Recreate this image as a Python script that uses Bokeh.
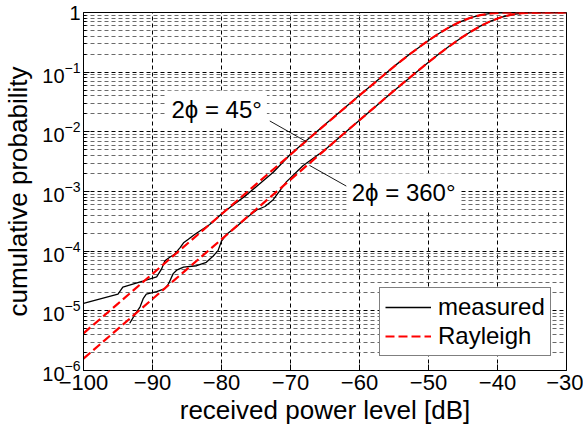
from bokeh.plotting import figure
from bokeh.models import FixedTicker, Label, Legend, LegendItem, Range1d
from bokeh.embed import file_html
from bokeh.resources import INLINE

# ---- data ----
# Rayleigh curves (red dashed)
ray_x = [-100, -95, -90, -85, -80, -75, -70, -65, -60, -55, -52.5, -50, -48.5, -47,
         -45.5, -44, -42.5, -41, -39.5, -38, -36.5, -35, -33.5, -32, -30]
ray45_y = [4.2e-6, 1.32e-5, 4.17e-5, 1.32e-4, 4.17e-4, 1.32e-3, 4.16e-3, 1.31e-2, 4.08e-2,
           0.124, 0.209, 0.341, 0.445, 0.565, 0.691, 0.810, 0.904, 0.964, 0.9907, 0.9986,
           0.9999, 1.0, 1.0, 1.0, 1.0]
ray360_y = [1.58e-6, 5.0e-6, 1.58e-5, 5.0e-5, 1.58e-4, 5.0e-4, 1.58e-3, 4.99e-3, 1.57e-2,
            0.0489, 0.0853, 0.147, 0.201, 0.271, 0.360, 0.468, 0.590, 0.716, 0.831, 0.919,
            0.971, 0.9933, 0.9992, 0.99995, 1.0]

# measured curves (black solid)
m45_x = [-100, -95, -94.3, -91.4, -89.4, -88.7, -88.2, -87.5, -86.8, -86.0, -85.5, -84.8,
         -83.9, -81.7, -79.8, -76.4, -72.5, -70, -65, -60, -55, -52.5, -50, -48.5, -47,
         -45.5, -44, -42.5, -41, -39.5, -38, -36.5, -35, -30]
m45_y = [1.33e-5, 1.9e-5, 2.5e-5, 3.15e-5, 3.7e-5, 5.0e-5, 6.9e-5, 7.9e-5, 8.9e-5, 1.15e-4,
         1.38e-4, 1.58e-4, 1.9e-4, 2.8e-4, 4.4e-4, 8.7e-4, 2.1e-3, 4.2e-3, 1.33e-2, 4.1e-2,
         0.125, 0.21, 0.34, 0.445, 0.565, 0.69, 0.81, 0.905, 0.964, 0.991, 0.9986, 0.9999,
         1.0, 1.0]
m360_x = [-93.3, -92.6, -91.8, -91.35, -90.9, -89.4, -88.2, -87.7, -87.0, -86.5, -85.5,
          -83.6, -82.2, -81.2, -80.5, -80.0, -79.3, -77.8, -76.4, -74.9, -73.7, -72.5,
          -70.6, -68.2, -65, -60, -55, -52.5, -50, -48.5, -47, -45.5, -44, -42.5, -41,
          -39.5, -38, -36.5, -35, -33.5, -32, -30]
m360_y = [6.2e-6, 8.5e-6, 1.17e-5, 1.6e-5, 1.9e-5, 2.1e-5, 2.35e-5, 2.8e-5, 4.2e-5, 4.8e-5,
          5.4e-5, 5.7e-5, 6.5e-5, 8.3e-5, 1.02e-4, 1.48e-4, 1.9e-4, 2.6e-4, 3.6e-4, 4.9e-4,
          5.6e-4, 7.3e-4, 1.45e-3, 2.7e-3, 5.0e-3, 1.57e-2, 0.049, 0.085, 0.147, 0.201,
          0.271, 0.36, 0.468, 0.59, 0.716, 0.831, 0.919, 0.971, 0.9933, 0.9992, 0.99995, 1.0]

# axes ticks
x_ticks = [-100, -90, -80, -70, -60, -50, -40, -30]
y_ticks = [1e-6, 1e-5, 1e-4, 1e-3, 1e-2, 1e-1, 1.0]
y_minor = [m * 10.0 ** e for e in range(-6, 0) for m in range(2, 10)]

# annotations
ann45_text = "2\u03d5 = 45\u00b0"
ann45_pos = (-80.7, 0.024)
lead45_x = [-73.0, -67.7]
lead45_y = [0.0152, 6.84e-3]
ann360_text = "2\u03d5 = 360\u00b0"
ann360_pos = (-53.6, 9.8e-4)
lead360_x = [-67.25, -61.9]
lead360_y = [2.74e-3, 1.23e-3]

FONT = "Liberation Sans"

p = figure(output_backend="svg", toolbar_location=None, y_axis_type="log",
           frame_width=483, frame_height=358,
           min_border_left=79, min_border_right=17, min_border_top=12, min_border_bottom=55,
           x_range=Range1d(-100, -30), y_range=Range1d(1e-6, 1.0))
p.background_fill_color = "white"
p.border_fill_color = "white"
p.outline_line_color = "black"
p.outline_line_width = 1

p.xaxis.ticker = FixedTicker(ticks=x_ticks)
p.yaxis.ticker = FixedTicker(ticks=y_ticks, minor_ticks=y_minor)
p.yaxis.major_label_overrides = {1: "1"}

for ax in (p.xaxis[0], p.yaxis[0]):
    ax.axis_line_color = "black"
    ax.major_tick_in = 6
    ax.major_tick_out = 0
    ax.minor_tick_in = 3
    ax.minor_tick_out = 0
    ax.major_label_text_font = FONT
    ax.major_label_text_color = "black"
    ax.axis_label_text_font = FONT
    ax.axis_label_text_font_size = "26px"
    ax.axis_label_text_font_style = "normal"
    ax.axis_label_text_color = "black"
p.xaxis.major_label_text_font_size = "22px"
p.yaxis.major_label_text_font_size = "20px"
p.xaxis.minor_tick_line_color = None
p.xaxis.major_label_standoff = 4
p.yaxis.major_label_standoff = 3
p.xaxis.axis_label_standoff = 2
p.yaxis.axis_label_standoff = 6
p.xaxis.axis_label = "received power level [dB]"
p.yaxis.axis_label = "cumulative probability"

p.xgrid.ticker = p.xaxis[0].ticker
p.ygrid.ticker = p.yaxis[0].ticker
p.xgrid.grid_line_color = "black"
p.xgrid.grid_line_dash = "4 3"
p.xgrid.grid_line_width = 1
p.ygrid.grid_line_color = "black"
p.ygrid.grid_line_dash = "4 3"
p.ygrid.grid_line_width = 1
p.ygrid.minor_grid_line_color = "#444444"
p.ygrid.minor_grid_line_dash = "4 3"
p.ygrid.minor_grid_line_width = 0.8

r_m1 = p.line(m45_x, m45_y, line_color="black", line_width=1.3)
r_m2 = p.line(m360_x, m360_y, line_color="black", line_width=1.3)
r_r1 = p.line(ray_x, ray45_y, line_color="red", line_width=2.2, line_dash="9 4")
r_r2 = p.line(ray_x, ray360_y, line_color="red", line_width=2.2, line_dash="9 4")

p.line(lead45_x, lead45_y, line_color="black", line_width=0.9)
p.line(lead360_x, lead360_y, line_color="black", line_width=0.9)

for txt, (lx, ly) in ((ann45_text, ann45_pos), (ann360_text, ann360_pos)):
    p.add_layout(Label(x=lx, y=ly, text=txt, text_align="center", text_baseline="middle",
                       text_font=FONT, text_font_size="24px", text_color="black",
                       background_fill_color="white", padding=5))

legend = Legend(items=[LegendItem(label="measured", renderers=[r_m1]),
                       LegendItem(label="Rayleigh", renderers=[r_r1])],
                location=(296, 14))
legend.label_text_font = FONT
legend.label_text_font_size = "24px"
legend.label_text_color = "black"
legend.border_line_color = "black"
legend.border_line_width = 1
legend.background_fill_color = "white"
legend.background_fill_alpha = 1.0
legend.glyph_width = 46
legend.label_standoff = 7
legend.padding = 5
legend.spacing = 1
legend.margin = 0
p.add_layout(legend, "center")

open("out.html", "w").write(file_html(p, INLINE))
